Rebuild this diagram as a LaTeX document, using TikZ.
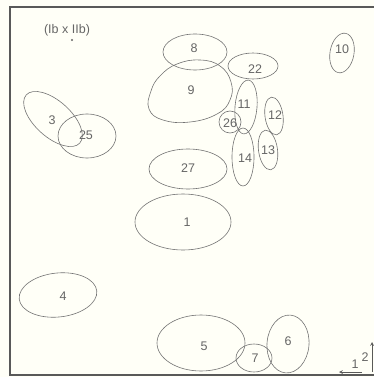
\documentclass[tikz,border=0pt]{standalone}
\usepackage{fontspec}
\setmainfont{Liberation Sans}
\begin{document}
\begin{tikzpicture}[x=1pt,y=-1pt,
  blob/.style={draw=black!55, line width=0.6pt},
  lab/.style={text=black!60, font=\fontsize{12.5}{12.5}\selectfont, inner sep=0pt},
  frame/.style={draw=black!65, line width=1.1pt}]
\useasboundingbox (0,0) rectangle (374,377);
\fill[white!97!yellow] (0,0) rectangle (374,377);
% frame
\draw[frame] (374,7) -- (10,7) -- (10,375) -- (374,375);
% title
\node[lab] (title) at (67,30) {(Ib x IIb)};
\fill[black!60] (72,40) circle (1.1pt);
% shapes
\draw[blob] (195,52) ellipse [x radius=32, y radius=18];
\draw[blob] plot[smooth cycle, tension=0.75] coordinates {(160,76) (177,64) (200,60) (220,66) (231,82) (230,100) (217,114) (190,122) (163,120) (149,109) (151,91)};
\draw[blob] (253,66) ellipse [x radius=25, y radius=13];
\draw[blob, rotate around={-10:(342,53)}] (342,53) ellipse [x radius=12, y radius=20];
\draw[blob, rotate around={-5:(246,107)}] (246,107) ellipse [x radius=11, y radius=27];
\draw[blob] (230,122) ellipse [x radius=11, y radius=11];
\draw[blob, rotate around={8:(274,116)}] (274,116) ellipse [x radius=9, y radius=19];
\draw[blob, rotate around={8:(268,150)}] (268,150) ellipse [x radius=9.5, y radius=20];
\draw[blob] (243,157) ellipse [x radius=11, y radius=29];
\draw[blob] (188,169) ellipse [x radius=39, y radius=20];
\draw[blob] (183,222) ellipse [x radius=48, y radius=28];
\draw[blob, rotate around={-42:(53,119)}] (53,119) ellipse [x radius=36, y radius=18];
\draw[blob] (87,136) ellipse [x radius=29, y radius=22];
\draw[blob, rotate around={6:(58,295)}] (58,295) ellipse [x radius=39, y radius=22];
\draw[blob] (201,343) ellipse [x radius=44, y radius=28];
\draw[blob] (254,358) ellipse [x radius=18, y radius=14];
\draw[blob, rotate around={-5:(288,344)}] (288,344) ellipse [x radius=21, y radius=29];
% labels
\node[lab] (n8) at (194,48) {8};
\node[lab] (n9) at (191,90) {9};
\node[lab] (n22) at (255,69) {22};
\node[lab] (n10) at (342,49) {10};
\node[lab] (n11) at (244,104) {11};
\node[lab] (n26) at (230,123) {26};
\node[lab] (n12) at (275,115) {12};
\node[lab] (n13) at (268,150) {13};
\node[lab] (n14) at (245,158) {14};
\node[lab] (n27) at (188,168) {27};
\node[lab] (n1) at (187,222) {1};
\node[lab] (n3) at (52,120) {3};
\node[lab] (n25) at (86,135) {25};
\node[lab] (n4) at (63,296) {4};
\node[lab] (n5) at (204,346) {5};
\node[lab] (n7) at (255,358) {7};
\node[lab] (n6) at (288,341) {6};
% axes
\coordinate (o) at (372,372);
\coordinate (ax1) at (339,372);
\coordinate (ax2) at (372,342);
\draw[black!65, line width=0.7pt, -stealth] (362,372) -- (ax1);
\draw[black!65, line width=0.7pt, -stealth] (o) -- (ax2);
\node[lab] (l1) at (355,364) {1};
\node[lab] (l2) at (365,357) {2};
\end{tikzpicture}
\end{document}
